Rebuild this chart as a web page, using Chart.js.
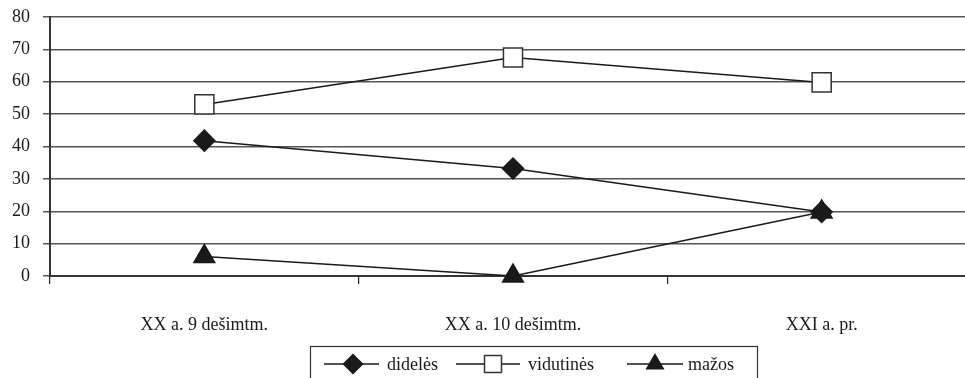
<!DOCTYPE html>
<html>
<head>
<meta charset="utf-8">
<script src="https://cdn.jsdelivr.net/npm/chart.js@4"></script>
<style>
  html, body { margin: 0; padding: 0; background: #fff; overflow: hidden; }
  #wrap { width: 991px; height: 378px; }
</style>
</head>
<body>
<div id="wrap"><canvas id="lineChart" width="991" height="378"></canvas></div>
<script>
const categories = ['XX a. 9 dešimtm.', 'XX a. 10 dešimtm.', 'XXI a. pr.'];
const seriesNames = ['didelės', 'vidutinės', 'mažos'];
const didelesValues = [41.8, 33.2, 19.8];
const vidutinesValues = [53, 67.5, 59.8];
const mazosValues = [6, 0, 19.8];
const yTicks = [0, 10, 20, 30, 40, 50, 60, 70, 80];

const font = { family: '"Liberation Serif", "Times New Roman", serif', size: 18 };

const datasets = [
  { label: seriesNames[0], data: didelesValues, pointStyle: 'rectRot', pointRadius: 10.5,
    backgroundColor: '#1a1a1a', pointBorderColor: '#1a1a1a' },
  { label: seriesNames[1], data: vidutinesValues, pointStyle: 'rect', pointRadius: 13.5,
    backgroundColor: '#ffffff', pointBorderColor: '#333333' },
  { label: seriesNames[2], data: mazosValues, pointStyle: 'triangle', pointRadius: 12,
    backgroundColor: '#1a1a1a', pointBorderColor: '#1a1a1a' }
].map(d => Object.assign({
  borderColor: '#1a1a1a', borderWidth: 1.5, pointBorderWidth: 1.5, clip: false,
  pointBackgroundColor: d.backgroundColor, pointHoverRadius: d.pointRadius, tension: 0
}, d));

// legend drawn as a boxed row under the axis
const boxLegend = {
  id: 'boxLegend',
  afterDraw(chart) {
    const ctx = chart.ctx;
    ctx.save();
    ctx.strokeStyle = '#333';
    ctx.lineWidth = 1.2;
    ctx.strokeRect(310.5, 346.5, 447, 40);
    const items = [
      { line: [324, 379], mark: 353, text: 387 },
      { line: [456, 520], mark: 493, text: 528 },
      { line: [627, 683], mark: 655, text: 688 }
    ];
    const y = 364;
    items.forEach((it, i) => {
      const ds = chart.data.datasets[i];
      ctx.strokeStyle = '#1a1a1a';
      ctx.lineWidth = 1.5;
      ctx.beginPath();
      ctx.moveTo(it.line[0], y);
      ctx.lineTo(it.line[1], y);
      ctx.stroke();
      ctx.fillStyle = ds.pointBackgroundColor;
      ctx.strokeStyle = ds.pointBorderColor;
      const r = ds.pointStyle === 'rect' ? 12 : 9.5;
      Chart.helpers.drawPoint(ctx, { pointStyle: ds.pointStyle, radius: r, borderWidth: 1.5 }, it.mark, y);
      ctx.fillStyle = '#1a1a1a';
      ctx.font = '18px ' + font.family;
      ctx.textBaseline = 'middle';
      ctx.fillText(ds.label, it.text, y + 1);
    });
    ctx.restore();
  }
};

new Chart(document.getElementById('lineChart'), {
  type: 'line',
  data: { labels: categories, datasets: datasets },
  options: {
    responsive: false,
    animation: false,
    layout: { padding: { top: 17, left: 0, right: 0, bottom: 0 } },
    plugins: { legend: { display: false }, tooltip: { enabled: false } },
    scales: {
      x: {
        offset: true,
        grid: { offset: true, drawOnChartArea: false, color: '#222', tickLength: 8, lineWidth: 1.2 },
        border: { color: '#333', width: 2 },
        ticks: { color: '#1a1a1a', font: font, padding: 30, maxRotation: 0 },
        afterFit(scale) { scale.height = 102; scale.paddingLeft = 0; scale.paddingRight = 0; }
      },
      y: {
        min: 0, max: 80,
        afterBuildTicks(scale) { scale.ticks = yTicks.map(v => ({ value: v })); },
        grid: { color: '#555', lineWidth: 1.5, tickLength: 7 },
        border: { color: '#333', width: 2 },
        ticks: { color: '#1a1a1a', font: font, padding: 13 },
        afterFit(scale) { scale.width = 50; scale.paddingTop = 0; scale.paddingBottom = 0; }
      }
    }
  },
  plugins: [boxLegend]
});
</script>
</body>
</html>
